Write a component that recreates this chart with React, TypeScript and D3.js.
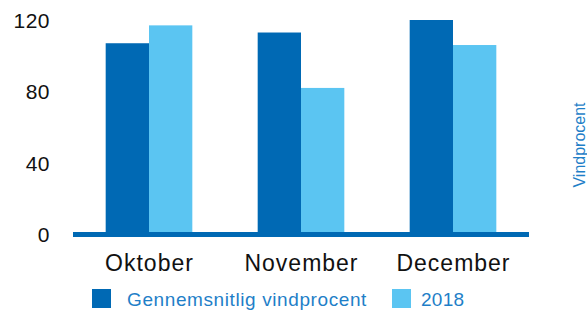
import React from "react";
import * as d3 from "d3";

const categories = ["Oktober", "November", "December"];
const seriesNames = ["Gennemsnitlig vindprocent", "2018"];
const avgValues = [107, 113, 120];
const values2018 = [117, 82, 106];
const yTicks = [0, 40, 80, 120];

const W = 587;
const H = 312;
const DARK = "#0069b4";
const LIGHT = "#5bc5f2";
const TEXTBLUE = "#1f7fc8";

export default function App() {
  const x = d3.scaleBand<string>().domain(categories).range([73, 529]).paddingInner(0.43).paddingOuter(0.215);
  const y = d3.scaleLinear().domain([0, 120]).range([234.5, 20]);
  const sub = d3.scaleBand<string>().domain(seriesNames).range([0, x.bandwidth()]);
  const series = [avgValues, values2018];
  const colors = [DARK, LIGHT];
  const font = "'Liberation Sans', Arial, sans-serif";

  return (
    <svg width={W} height={H} style={{ position: "absolute", left: 0, top: 0 }} fontFamily={font}>
      <rect width={W} height={H} fill="#fff" />
      {categories.map((c, i) =>
        series.map((s, j) => (
          <rect
            key={c + j}
            x={(x(c) ?? 0) + (sub(seriesNames[j]) ?? 0)}
            y={y(s[i])}
            width={sub.bandwidth()}
            height={y(0) - y(s[i])}
            fill={colors[j]}
          />
        ))
      )}
      <line x1={73} x2={529} y1={y(0)} y2={y(0)} stroke={DARK} strokeWidth={5} />
      {yTicks.map((t) => (
        <text key={t} x={50} y={y(t) + 0.5} dy="0.35em" textAnchor="end" fontSize={21} fill="#111" letterSpacing={0.5}>
          {t}
        </text>
      ))}
      {categories.map((c) => (
        <text key={c} x={(x(c) ?? 0) + x.bandwidth() / 2 + 0.5} y={263} dy="0.35em" textAnchor="middle" fontSize={23} fill="#111" letterSpacing={1}>
          {c}
        </text>
      ))}
      <rect x={92} y={289} width={19} height={19} fill={DARK} />
      <text x={127} y={299} dy="0.35em" fontSize={19} fill={TEXTBLUE} letterSpacing={0.6}>{seriesNames[0]}</text>
      <rect x={392} y={289} width={19} height={19} fill={LIGHT} />
      <text x={421} y={299} dy="0.35em" fontSize={19} fill={TEXTBLUE} letterSpacing={0.3}>{seriesNames[1]}</text>
      <text transform="translate(579,145) rotate(-90)" dy="0.35em" textAnchor="middle" fontSize={16} fill={TEXTBLUE}>
        Vindprocent
      </text>
    </svg>
  );
}
